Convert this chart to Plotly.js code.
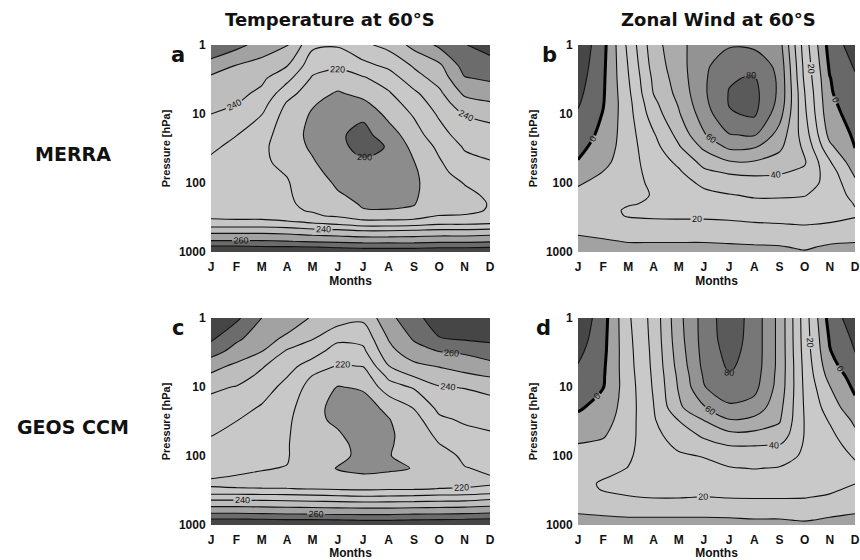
<!DOCTYPE html>
<html><head><meta charset="utf-8">
<script src="https://cdn.plot.ly/plotly-3.0.1.min.js"></script>
<style>html,body{margin:0;padding:0;background:#fff}#chart{width:860px;height:560px}</style>
</head><body><div id="chart"></div>
<script>
const monthPos = [1,2,3,4,5,6,7,8,9,10,11,12];
const monthLabels = ['J','F','M','A','M','J','J','A','S','O','N','D'];
const pressure = [1,2,3,5,7,10,20,30,50,70,100,150,200,250,300,400,500,700,850,1000];
const pressureTicks = [1,10,100,1000];
const columnTitles = ['Temperature at 60°S','Zonal Wind at 60°S'];
const rowLabels = ['MERRA','GEOS CCM'];
const panelLetters = ['a','b','c','d'];

// one row per month (J..D), one value per pressure level (1 .. 1000 hPa)
const tempMerra = [
 [268,256,248,245,242.5,240,235,232,228,226,225,224,224,225,227,236,247,261,272,280],
 [263,249.5,246,242.5,240.3,237,230.3,227,225,224,223,223,223,224,226,236,247,261,272,280],
 [256,246,242,238,234,230.3,224,222,222,222,222,222,222,223,226,236,247,261,271,279],
 [251,240.3,233,224,219,216,214.5,215,217,219.5,220.6,220.8,220.8,221,223,235,246,260.3,271,279],
 [232,224,219,214,211,209,207.5,208.5,211,213,215,217,218.5,219.5,221,232,244,259,270.3,278],
 [231,221.5,216,209,206,203.5,201.5,202,204,206,208.5,211,213.5,216,219,230.3,243,258,269,277],
 [238,227,219,213,208,202,197,197.5,201,204,206,207.5,209,210.5,214,227,241,257,268,276],
 [243,232,225,219,216,213,205,200.5,201.5,203,204.5,206.5,208,210.5,214,227,241,257,268,276],
 [253,241,236,228,224,221,216,213,209.7,208.5,208,208.5,209.5,211.5,215,228,242,257,268,276],
 [262,248,244,238,235,231.5,226,222,219,217.5,216.5,216.5,217,218,220.3,230.3,243,258,269,277],
 [269.5,264,259.5,252,246,240.5,235,231,227,224,220.3,218.5,218,218.5,220.5,230.3,243,258,269,277],
 [274,266,261.5,255,249,243,236,233,229.5,226,223,221,220.3,220.5,222,231,244,259,269.5,278]
];
const windMerra = [
 [-18,-16,-14.5,-12.5,-11,-9,-5,-2.5,0.5,4.5,9,12.5,14.5,15,14.5,13,11,8.5,6.5,5],
 [-3,-2,-1.5,-1,-0.5,0.5,2.5,4,7,10.3,13,15.5,17,18,18,16,13,9,7,5],
 [22.5,20.5,19.5,18,17,16.5,16,16,16.5,17,17.5,18.5,19.6,20.8,20.4,17.5,14.5,10.5,8,6],
 [46,44,42,40.3,37.5,35,29,26.5,24,22.5,21.3,20.3,20.6,21.5,21,18,15,10.5,8,6],
 [57,56,55,53,51,49,43,39,32,28.5,26,24.5,24,23.5,21.5,17.5,14.5,10.5,8,6],
 [66,68,68.5,68.5,67.5,65,59,52,43,38,32,27.5,25.5,24,21.5,17.5,14.5,10.5,8,6],
 [69,76,79,80.5,80.5,79,69.5,62,49,41,35,29.5,27,25,22,18,15,11,8.5,6.5],
 [68,77,81,83,83,81.5,71,61,49,42,36,31,28,26,23,19,16,11.5,9,7],
 [64,67,68,68,67,64,56,52,46,41,36,31,28,26,23.5,19.5,16,11.5,9.5,7.5],
 [25,27,28,30.3,31,32,35,38,41,38,34,30.3,28,26,24,20.3,16.5,12,10.8,9.5],
 [-4,-1.5,0.3,1,2,3,7,12,21,25,27,27,26,25,23.5,19,15.5,11,9,7],
 [-15,-11,-9,-6.5,-5,-3.5,-1.5,-0.3,4,8,12,16.5,19.5,20.5,20.5,18,15,10.5,8,6]
];
const tempGeos = [
 [279,271.5,265,253,248.5,242,236,233.5,230.3,227.5,225,222,220.3,219.3,220.5,236,246.5,261.5,272,279],
 [272,262,256,248,244.5,239.5,233.5,230.3,227,225,223,221,219.8,219,220.3,236,246.5,261.5,272,279],
 [260,254,250.5,241,237.5,234.5,229,226.5,224,222.5,221.3,220.3,219.3,218.8,220.2,235.5,246,261,271.5,278.5],
 [256,248,239,233,230.3,227,223.5,222,221,220.6,220.5,219.8,219,218.5,220.2,235,245.5,260.5,271,278],
 [249,240.5,234,226,219.5,216,212.5,212,213,214,215,214.5,217,218,219.8,234,245,260.3,271,278],
 [245,232,226,219,213,209.7,207.5,208.5,211,212.5,212.5,209.5,212,215,219,233,244.5,259.7,270.5,277.5],
 [242,233,228,220.3,215,211,206.5,205.5,206,207,207.5,207,211.5,214.5,218.5,232,244,259.5,269.7,277],
 [257,250.5,247,239.7,232,226,212,209.5,209,209.5,209.8,208.5,212,215,219,232.5,244,259.5,269.7,277],
 [267,261,256,247.5,240.3,231,220.5,216,213,212,211.5,210.3,212.5,215.5,219.2,233,244.5,260.3,270.5,277.5],
 [275,269.5,260.5,250.5,245,239.5,232.5,228,222.5,219.5,216.5,215,215.5,217,220.3,234,245,260.5,271,278],
 [279,271,262,253.5,248,240.5,234,231.3,227,224.5,221.5,219.7,218.5,218.5,220.5,234.5,245.5,261,271.5,278.5],
 [281,272,266,256.5,250.5,243,235.5,232.5,229,226,223,221,219.8,219.5,221,237,247,262,272.5,279]
];
const windGeos = [
 [-18,-15,-12.5,-9.5,-7,-5,-1,2,7.5,10.5,13,15.5,17,17.8,17.5,16,13.5,9.8,8,6],
 [-4,-3,-2.5,-1.5,-1,-0.3,3,5.5,9,12,14.5,17.5,19.5,20.8,20.5,18.5,15,10.5,8.5,6.5],
 [18.5,17.5,17,16.5,16,15.5,15.5,16,17,18,19,20.2,21.5,22.5,22,19.5,15.5,11,9,7],
 [33.5,33,32.5,32,31.5,31,29.7,29,27,25.5,24.5,24,24,24,23,20.3,16,11,9,7],
 [57,56,55,53.5,52,51,48,40.3,35,32,28.5,26.5,25.5,25,24,20.3,16,11,9,7],
 [74,74,73.5,72.5,71,69.5,59,50.3,41.5,37,30.5,27,25.5,25,24,19.5,16,11,9,7],
 [86,85,83.5,81.5,79.5,77,68,59.5,47,40.3,34,29.5,27,25.5,24,20.3,16.5,11.5,9,7],
 [76,76,76,75.5,74.5,73,66,57.5,47,40.3,34.5,30.3,27.5,26,24.5,20.5,17,12,9.5,7.5],
 [57,57,57,57,56.5,56,53,51,46,39.7,34,29.5,27.5,26,24.5,20.5,17,12,9.5,7.5],
 [25,25.5,26,27,27.5,28,29,29.5,29.5,29,28.5,27.5,26.5,25.5,24,20.3,17,12.5,10.5,8],
 [-4,-1,0.5,3.5,6.5,10.3,15.5,19,22.5,24.5,25.5,25.5,25,24,22,18.5,15.5,11,9,7],
 [-16,-12,-10.3,-6.5,-4,-2,3,8,12,15.5,19,22,22.5,20.2,18,15,13,9.8,9,7]
];

const tempShades = ['#5a5a5a','#8c8c8c','#c4c4c4','#c8c8c8','#c6c6c6','#bdbdbd','#a2a2a2','#6c6c6c','#464646'];
const windShades = ['#474747','#686868','#a2a2a2','#c6c6c6','#c9c9c9','#c5c5c5','#bcbcbc','#ababab','#939393','#777777','#5a5a5a'];
const scale = cols => cols.map((c, i) => [i / (cols.length - 1), c]);

const levels = {
  temp: {fill: {start: 200, end: 270, size: 10}, plain: {start: 210, end: 270, size: 20}, labeled: {start: 200, end: 260, size: 20}, shades: tempShades},
  wind: {fill: {start: -10, end: 80, size: 10}, plain: {start: -10, end: 70, size: 20}, labeled: {start: 20, end: 80, size: 20}, shades: windShades}
};

const transpose = rows => rows[0].map((_, i) => rows.map(r => r[i]));

const panels = [
  {data: tempMerra, kind: 'temp', xd: [211, 490], yd: [45, 252]},
  {data: windMerra, kind: 'wind', xd: [578, 855], yd: [45, 252]},
  {data: tempGeos, kind: 'temp', xd: [211, 490], yd: [318, 525]},
  {data: windGeos, kind: 'wind', xd: [578, 855], yd: [318, 525]}
];

const W = 860, H = 560;
const pxX = x => x / W;
const pxY = y => 1 - y / H;
const tickFont = {family: 'Liberation Sans, Arial, sans-serif', size: 12, color: '#111'};
const labelFont = {family: 'Liberation Sans, Arial, sans-serif', size: 9, color: '#111'};

const traces = [];
const layout = {
  width: W, height: H, margin: {l: 0, r: 0, t: 0, b: 0},
  paper_bgcolor: '#fff', plot_bgcolor: '#fff', showlegend: false,
  annotations: []
};

panels.forEach((p, k) => {
  const sfx = k === 0 ? '' : String(k + 1);
  const xa = 'x' + sfx, ya = 'y' + sfx;
  const z = transpose(p.data);
  const L = levels[p.kind];
  const base = {type: 'contour', x: monthPos, y: pressure, z: z, xaxis: xa, yaxis: ya,
    showscale: false, hoverinfo: 'skip', autocontour: false};
  traces.push(Object.assign({}, base, {
    contours: Object.assign({coloring: 'fill', showlines: false}, L.fill),
    colorscale: scale(L.shades), line: {width: 0, smoothing: 0.9}
  }));
  traces.push(Object.assign({}, base, {
    contours: Object.assign({coloring: 'none', showlabels: false}, L.plain),
    line: {color: '#111', width: 1.1, smoothing: 0.9}
  }));
  traces.push(Object.assign({}, base, {
    contours: Object.assign({coloring: 'none', showlabels: true, labelfont: labelFont}, L.labeled),
    line: {color: '#111', width: 1.1, smoothing: 0.9}
  }));
  if (p.kind === 'wind') {
    traces.push(Object.assign({}, base, {
      contours: {coloring: 'none', showlabels: true, labelfont: labelFont, start: 0, end: 0, size: 10},
      line: {color: '#000', width: 3, smoothing: 0.9}
    }));
  }
  layout['xaxis' + sfx] = {
    domain: [pxX(p.xd[0]), pxX(p.xd[1])], anchor: ya, range: [1, 12],
    tickmode: 'array', tickvals: monthPos, ticktext: monthLabels.map(s => '<b>' + s + '</b>'),
    ticks: 'outside', ticklen: 4, tickcolor: 'rgba(0,0,0,0)',
    showgrid: false, zeroline: false, showline: false, tickfont: tickFont,
    title: {text: '<b>Months</b>', font: {family: tickFont.family, size: 12, color: '#111'}, standoff: 0},
    fixedrange: true
  };
  layout['yaxis' + sfx] = {
    domain: [pxY(p.yd[1]), pxY(p.yd[0])], anchor: xa, type: 'log', range: [3, 0],
    tickmode: 'array', tickvals: pressureTicks, ticktext: pressureTicks.map(v => '<b>' + v + '</b>'),
    ticks: 'outside', ticklen: 2, tickcolor: 'rgba(0,0,0,0)',
    showgrid: false, zeroline: false, showline: false, tickfont: tickFont,
    title: {text: '<b>Pressure [hPa]</b>', font: {family: tickFont.family, size: 11, color: '#111'}, standoff: 6},
    fixedrange: true
  };
});

const bigFont = {family: 'DejaVu Sans, sans-serif', size: 18, color: '#111'};
layout.annotations.push(
  {text: '<b>' + columnTitles[0] + '</b>', x: pxX(330), y: pxY(20), xref: 'paper', yref: 'paper', showarrow: false, font: bigFont, xanchor: 'center', yanchor: 'middle'},
  {text: '<b>' + columnTitles[1] + '</b>', x: pxX(718), y: pxY(20), xref: 'paper', yref: 'paper', showarrow: false, font: bigFont, xanchor: 'center', yanchor: 'middle'},
  {text: '<b>' + rowLabels[0] + '</b>', x: pxX(73), y: pxY(154), xref: 'paper', yref: 'paper', showarrow: false, font: Object.assign({}, bigFont, {size: 19}), xanchor: 'center', yanchor: 'middle'},
  {text: '<b>' + rowLabels[1] + '</b>', x: pxX(73), y: pxY(427), xref: 'paper', yref: 'paper', showarrow: false, font: Object.assign({}, bigFont, {size: 19}), xanchor: 'center', yanchor: 'middle'}
);
const letterPos = [[178, 55], [549, 55], [178, 328], [543, 328]];
panelLetters.forEach((l, i) => layout.annotations.push({
  text: '<b>' + l + '</b>', x: pxX(letterPos[i][0]), y: pxY(letterPos[i][1]), xref: 'paper', yref: 'paper',
  showarrow: false, font: {family: 'DejaVu Sans, sans-serif', size: 21, color: '#111'}, xanchor: 'center', yanchor: 'middle'
}));

Plotly.newPlot('chart', traces, layout, {staticPlot: true, displayModeBar: false});
</script>
</body></html>
